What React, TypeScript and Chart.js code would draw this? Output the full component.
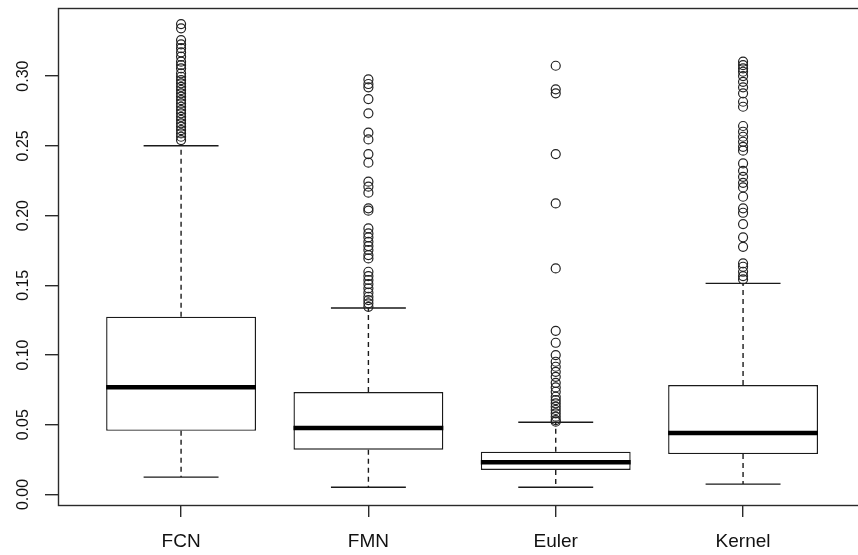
import React, { useEffect, useRef } from 'react';
import { Chart, registerables } from 'chart.js';

Chart.register(...registerables);

// ---- data ----
const categories = ['FCN', 'FMN', 'Euler', 'Kernel'];
const whiskerLow = [0.0125, 0.0052, 0.0052, 0.0075];
const quartile1 = [0.0457, 0.0321, 0.0176, 0.029];
const medians = [0.077, 0.0477, 0.0231, 0.0441];
const quartile3 = [0.1275, 0.0735, 0.0307, 0.0785];
const whiskerHigh = [0.25, 0.1337, 0.0518, 0.1514];

const outliersFCN = [
  0.3373, 0.3342, 0.3258, 0.3227, 0.32, 0.317, 0.3139, 0.3103, 0.3079, 0.3055, 0.302,
  0.2995, 0.2971, 0.2948, 0.2923, 0.29, 0.2876, 0.2852, 0.2828, 0.2804, 0.278, 0.2756,
  0.2733, 0.2708, 0.2685, 0.2661, 0.2637, 0.2613, 0.2589, 0.2565, 0.2541,
];
const outliersFMN = [
  0.2976, 0.2943, 0.2919, 0.2835, 0.2733, 0.2594, 0.2546, 0.2441, 0.2379, 0.2243, 0.2207,
  0.2164, 0.2052, 0.2035, 0.1908, 0.1872, 0.1844, 0.1812, 0.1781, 0.1753, 0.1717, 0.1693,
  0.1597, 0.1566, 0.1538, 0.1509, 0.1478, 0.1447, 0.1418, 0.1394, 0.1371, 0.1346,
];
const outliersEuler = [
  0.3074, 0.2905, 0.2876, 0.2441, 0.2087, 0.1621, 0.1174, 0.1088, 0.1, 0.0952, 0.0916,
  0.088, 0.0844, 0.0801, 0.0768, 0.0737, 0.0701, 0.0677, 0.0654, 0.063, 0.0606, 0.0582,
  0.0558, 0.0534, 0.0522,
];
const outliersKernel = [
  0.3103, 0.3079, 0.3055, 0.3031, 0.3, 0.2959, 0.2919, 0.2876, 0.2816, 0.278, 0.2642,
  0.2601, 0.2565, 0.2529, 0.2493, 0.2465, 0.2374, 0.2321, 0.2278, 0.2235, 0.2202, 0.2135,
  0.2052, 0.202, 0.1939, 0.1844, 0.1776, 0.1657, 0.1633, 0.1597, 0.1566, 0.1543,
];
const outlierGroups = [outliersFCN, outliersFMN, outliersEuler, outliersKernel];

const yTicks = [0, 0.05, 0.1, 0.15, 0.2, 0.25, 0.3];
const yTickLabels = ['0.00', '0.05', '0.10', '0.15', '0.20', '0.25', '0.30'];

// ---- styles ----
const BOX_HALF = 0.4;
const CAP_HALF = 0.2;
const INK = '#1a1a1a';
const FONT = '"Liberation Sans", Arial, Helvetica, sans-serif';
const Y_TICK_LEN = 13;
const X_TICK_LEN = 12;
const LW = 1.4;

const framePlugin = {
  id: 'rframe',
  afterDraw(chart: any) {
    const { ctx, chartArea: a, scales } = chart;
    ctx.save();
    ctx.strokeStyle = '#2a2a2a';
    ctx.lineWidth = LW;
    const l = Math.round(a.left) + 0.5;
    const t = Math.round(a.top) + 0.5;
    const r = Math.round(a.right) + 0.5;
    const b = Math.round(a.bottom) + 0.5;
    ctx.strokeRect(l, t, r - l, b - t);
    ctx.fillStyle = '#111';
    ctx.font = `16px ${FONT}`;
    ctx.textAlign = 'center';
    ctx.textBaseline = 'middle';
    const cx = a.left - Y_TICK_LEN - 21.5;
    yTicks.forEach((v, i) => {
      const py = scales.y.getPixelForValue(v);
      ctx.save();
      ctx.translate(cx, py);
      ctx.rotate(-Math.PI / 2);
      ctx.fillText(yTickLabels[i], 0, 0);
      ctx.restore();
    });
    ctx.restore();
  },
};

export default function App() {
  const ref = useRef<HTMLCanvasElement | null>(null);

  useEffect(() => {
    if (!ref.current) return;

    const whiskerData: any[] = [];
    const capData: any[] = [];
    const medianData: any[] = [];
    const boxData: any[] = [];
    const outlierData: any[] = [];

    categories.forEach((_, i) => {
      const x = i + 1;
      whiskerData.push({ x, y: quartile3[i] }, { x, y: whiskerHigh[i] }, { x, y: null });
      whiskerData.push({ x, y: quartile1[i] }, { x, y: whiskerLow[i] }, { x, y: null });
      capData.push({ x: x - CAP_HALF, y: whiskerHigh[i] }, { x: x + CAP_HALF, y: whiskerHigh[i] }, { x, y: null });
      capData.push({ x: x - CAP_HALF, y: whiskerLow[i] }, { x: x + CAP_HALF, y: whiskerLow[i] }, { x, y: null });
      medianData.push({ x: x - BOX_HALF, y: medians[i] }, { x: x + BOX_HALF, y: medians[i] }, { x, y: null });
      boxData.push({ x, y: [quartile1[i], quartile3[i]] });
      outlierGroups[i].forEach((v) => outlierData.push({ x, y: v }));
    });

    const chart = new Chart(ref.current, {
      type: 'scatter',
      data: {
        datasets: [
          {
            type: 'scatter',
            data: outlierData,
            order: 0,
            pointStyle: 'circle',
            pointRadius: 4.5,
            pointBorderWidth: 1.2,
            pointBorderColor: '#222',
            pointBackgroundColor: 'rgba(0,0,0,0)',
            showLine: false,
          } as any,
          {
            type: 'line',
            data: capData,
            order: 1,
            borderColor: INK,
            borderWidth: LW,
            pointRadius: 0,
            spanGaps: false,
            tension: 0,
          } as any,
          {
            type: 'line',
            data: medianData,
            order: 2,
            borderColor: '#000',
            borderWidth: 4.5,
            borderCapStyle: 'butt',
            pointRadius: 0,
            spanGaps: false,
            tension: 0,
          } as any,
          {
            type: 'bar',
            data: boxData,
            order: 3,
            backgroundColor: '#fff',
            borderColor: INK,
            borderWidth: LW,
            borderSkipped: false,
            categoryPercentage: BOX_HALF * 2,
            barPercentage: 1,
          } as any,
          {
            type: 'line',
            data: whiskerData,
            order: 4,
            borderColor: INK,
            borderWidth: LW,
            borderDash: [5, 4],
            pointRadius: 0,
            spanGaps: false,
            tension: 0,
          } as any,
        ],
      },
      options: {
        responsive: false,
        animation: false,
        devicePixelRatio: 1,
        events: [],
        layout: { padding: { left: 0, top: 8, right: 13.3, bottom: 0 } },
        plugins: { legend: { display: false }, tooltip: { enabled: false } },
        scales: {
          x: {
            type: 'linear',
            min: 0.343,
            max: 4.66,
            offset: false,
            afterFit: (s: any) => {
              s.height = 50;
            },
            afterBuildTicks: (s: any) => {
              s.ticks = categories.map((_, i) => ({ value: i + 1 }));
            },
            border: { display: false },
            grid: {
              offset: false,
              drawOnChartArea: false,
              drawTicks: true,
              tickLength: X_TICK_LEN,
              color: '#2a2a2a',
              lineWidth: LW,
            },
            ticks: {
              autoSkip: false,
              maxRotation: 0,
              minRotation: 0,
              padding: 13,
              color: '#111',
              font: { family: FONT, size: 19 },
              callback: (v: any) => categories[Math.round(Number(v)) - 1] ?? '',
            },
          },
          y: {
            type: 'linear',
            min: -0.0075,
            max: 0.3488,
            beginAtZero: false,
            afterFit: (s: any) => {
              s.width = 58;
            },
            afterBuildTicks: (s: any) => {
              s.ticks = yTicks.map((v) => ({ value: v }));
            },
            border: { display: false },
            grid: {
              drawOnChartArea: false,
              drawTicks: true,
              tickLength: Y_TICK_LEN,
              color: '#2a2a2a',
              lineWidth: LW,
            },
            ticks: { display: false },
          },
        },
      } as any,
      plugins: [framePlugin],
    });

    return () => chart.destroy();
  }, []);

  return (
    <div
      style={{
        position: 'absolute',
        left: 0,
        top: 0,
        width: 858,
        height: 555,
        overflow: 'hidden',
        background: '#fff',
      }}
    >
      <canvas ref={ref} width={880} height={555} style={{ width: 880, height: 555, display: 'block' }} />
    </div>
  );
}
